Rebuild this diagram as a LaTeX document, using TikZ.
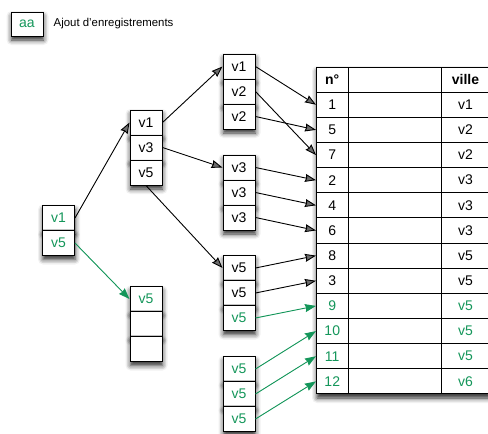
\documentclass[tikz,border=0pt]{standalone}
\usepackage{fontspec}
\setmainfont{Liberation Sans}
\usetikzlibrary{arrows.meta,shadows.blur}
\definecolor{vert}{RGB}{20,150,90}
\tikzset{
  soft shadow/.style={blur shadow={shadow xshift=0.5pt, shadow yshift=-4pt,
      shadow blur radius=5pt, shadow opacity=85}},
  cell/.style={draw=black, line width=1pt, fill=white, minimum width=32pt,
    minimum height=25pt, inner sep=0pt, font=\fontsize{14}{16}\selectfont, soft shadow},
  tcell/.style={draw=black, line width=1pt, fill=white, minimum height=25.15pt,
    inner sep=0pt, font=\fontsize{14}{16}\selectfont},
  arr/.style={line width=0.9pt, -{Stealth[length=11pt,width=8pt,inset=1pt]}},
  garr/.style={arr, draw=vert, fill=vert},
}
\begin{document}
\begin{tikzpicture}[x=1pt, y=-1pt]
\useasboundingbox (0,0) rectangle (488,434);

% legend
\node[cell, minimum height=24pt, text=vert] (leg) at (27,24) {aa};
\node[anchor=west, font=\fontsize{11.4}{13}\selectfont, inner sep=0pt] (legtxt) at (53.5,23.5) {Ajout d'enregistrements};

% root page
\node[cell, text=vert] (a1) at (58.5,218) {v1};
\node[cell, text=vert] (a2) at (58.5,243) {v5};

% intermediate pages
\node[cell] (b1) at (146,122.5) {v1};
\node[cell] (b2) at (146,147.5) {v3};
\node[cell] (b3) at (146,172.5) {v5};

\node[cell, text=vert] (f1) at (146,299) {v5};
\node[cell] (f2) at (146,324) {};
\node[cell] (f3) at (146,349) {};

% leaf pages
\node[cell] (c1) at (239,66.5) {v1};
\node[cell] (c2) at (239,91.5) {v2};
\node[cell] (c3) at (239,116.5) {v2};

\node[cell] (d1) at (239,167.5) {v3};
\node[cell] (d2) at (239,192.5) {v3};
\node[cell] (d3) at (239,217.5) {v3};

\node[cell] (e1) at (239,268) {v5};
\node[cell] (e2) at (239,293) {v5};
\node[cell, text=vert] (e3) at (239,318) {v5};

\node[cell, text=vert] (g1) at (239,369) {v5};
\node[cell, text=vert] (g2) at (239,394) {v5};
\node[cell, text=vert] (g3) at (239,419) {v5};

% table
\fill[white, soft shadow] (316.5,67) rectangle (490,394);
\node[tcell, minimum width=31.5pt, font=\fontsize{14}{16}\selectfont\bfseries] (h1) at (332.25,79.575) {n°};
\node[tcell, minimum width=93pt] (h2) at (394.5,79.575) {};
\node[tcell, minimum width=49pt, font=\fontsize{14}{16}\selectfont\bfseries] (h3) at (465.5,79.575) {ville};
\foreach \n/\v/\c [count=\i from 1] in {1/v1/black,5/v2/black,7/v2/black,2/v3/black,
    4/v3/black,6/v3/black,8/v5/black,3/v5/black,9/v5/vert,10/v5/vert,11/v5/vert,12/v6/vert} {
  \node[tcell, minimum width=31.5pt, text=\c] (r\i) at (332.25,{67+25.15*(\i+0.5)}) {\n};
  \node[tcell, minimum width=93pt] (m\i) at (394.5,{67+25.15*(\i+0.5)}) {};
  \node[tcell, minimum width=49pt, text=\c] (v\i) at (465.5,{67+25.15*(\i+0.5)}) {\v};
}

% tree links
\draw[arr] (a1.east) -- (b1.west);
\draw[garr] (a2.east) -- (f1.west);
\draw[arr] (b1.east) -- (c1.west);
\draw[arr] (b2.east) -- (d1.west);
\draw[arr] (b3.south) -- (e1.west);

% leaf entries to rows
\draw[arr] (c1.east) -- (r1.west);
\draw[arr] (c2.east) -- (r3.west);
\draw[arr] (c3.east) -- (r2.west);
\draw[arr] (d1.east) -- (r4.west);
\draw[arr] (d2.east) -- (r5.west);
\draw[arr] (d3.east) -- (r6.west);
\draw[arr] (e1.east) -- (r7.west);
\draw[arr] (e2.east) -- (r8.west);
\draw[garr] (e3.east) -- (r9.west);
\draw[garr] (g1.east) -- (r10.west);
\draw[garr] (g2.east) -- (r11.west);
\draw[garr] (g3.east) -- (r12.west);
\end{tikzpicture}
\end{document}
